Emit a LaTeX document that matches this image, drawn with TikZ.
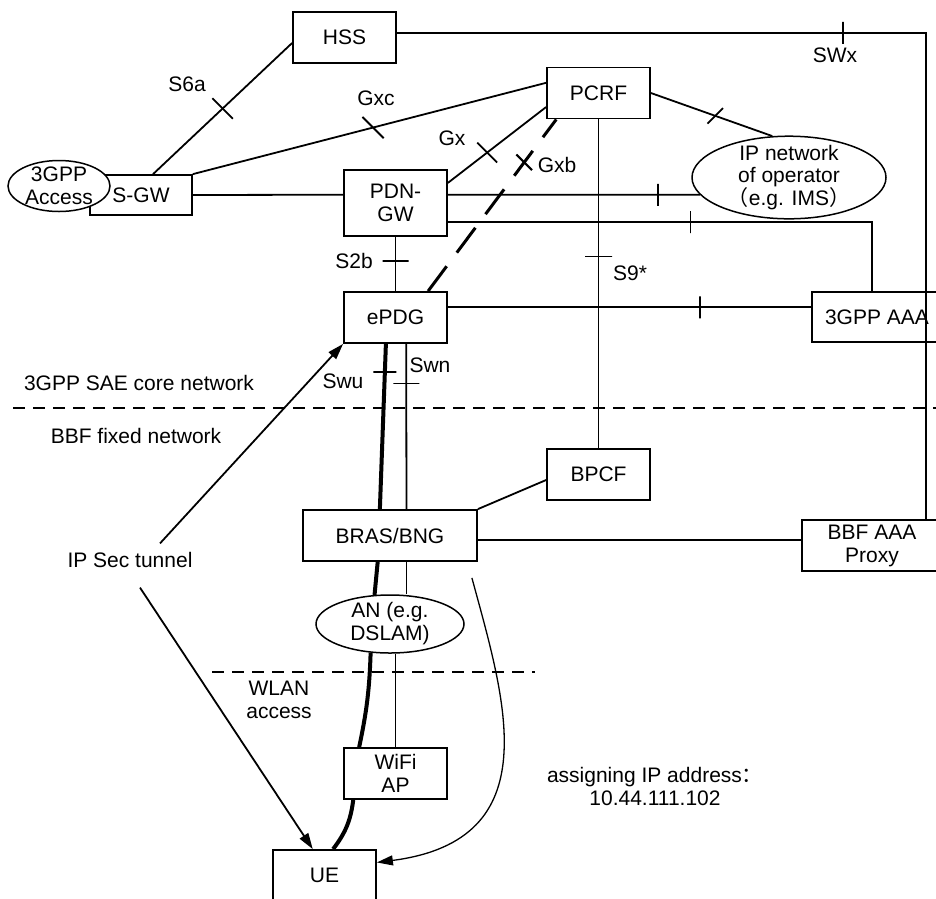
\documentclass[tikz,border=0pt]{standalone}
\usepackage{fontspec}
\setmainfont{Liberation Sans}
\newfontfamily\cjk{Noto Sans CJK SC}
\usetikzlibrary{shapes.geometric,arrows.meta}

\begin{document}
\begin{tikzpicture}[x=1pt,y=-1pt,line width=1.8pt,
      font=\fontsize{21}{23}\selectfont,
      box/.style={draw,fill=white,minimum width=103pt,minimum height=51pt,inner sep=1pt,align=center},
      cloud/.style={draw,ellipse,fill=white,inner sep=-3pt,align=center,line width=1.5pt},
      tick/.style={draw,solid,minimum width=0pt,minimum height=22pt,inner sep=0pt,line width=1.8pt},
      lbl/.style={inner sep=1pt,align=center},
      tip/.style={-{Triangle[length=16pt,width=10pt]}},
      border/.style={dash pattern=on 12pt off 8pt}]
   \useasboundingbox (0,0) rectangle (936,898);
   \clip (0,0) rectangle (936,898);

   \node[box] (hss) at (344.5,37.5) {HSS};
   \node[box] (pcrf) at (598.5,93) {PCRF};
   \node[box,minimum width=102pt,minimum height=40pt] (sgw) at (141,195) {S-GW};
   \node[cloud,minimum width=102pt,minimum height=51pt] (access) at (59,186) {3GPP\\Access};
   \node[box,minimum height=66pt] (pdngw) at (395.5,203) {PDN-\\GW};
   \node[cloud,minimum width=194pt,minimum height=80pt,font=\fontsize{21}{21.5}\selectfont] (ipnet) at (789,177.5)
      {IP network\\of operator\\{\cjk （}e.g. IMS{\cjk ）}};
   \node[box] (epdg) at (395.5,317.5) {ePDG};
   \node[box,minimum width=130pt,minimum height=50pt] (aaa) at (877,317) {3GPP AAA};
   \node[box] (bpcf) at (598.5,474.5) {BPCF};
   \node[box,minimum width=174pt] (bras) at (390,535.5) {BRAS/BNG};
   \node[box,minimum width=140pt] (bbf) at (872,545.5) {BBF AAA\\Proxy};
   \node[cloud,minimum width=148pt,minimum height=58pt] (an) at (390,624) {AN (e.g.\\DSLAM)};
   \node[box] (wifi) at (395.5,773.5) {WiFi\\AP};
   \node[box] (ue) at (324.5,875.5) {UE};

   % interface and area labels
   \node[lbl] (s6a) at (187,84) {S6a};
   \node[lbl] (gxc) at (376,98) {Gxc};
   \node[lbl] (gx) at (452,138) {Gx};
   \node[lbl] (gxb) at (557,165) {Gxb};
   \node[lbl] (swx) at (835,55) {SWx};
   \node[lbl] (s9) at (630,273) {S9*};
   \node[lbl] (s2b) at (354,261) {S2b};
   \node[lbl] (swu) at (343,381) {Swu};
   \node[lbl] (swn) at (430,365) {Swn};
   \node[lbl] (core) at (139,383) {3GPP SAE core network};
   \node[lbl] (fixed) at (136,436) {BBF fixed network};
   \node[lbl] (ipsec) at (130,560) {IP Sec tunnel};
   \node[lbl] (wlan) at (279,700) {WLAN\\access};
   \node[lbl] (addr) at (655,786) {assigning IP address{\cjk ：}\\10.44.111.102};

   \path
    (sgw.60)         edge node[tick,rotate=45,pos=0.5,minimum height=29pt] (t1) {} (hss.186)
    (sgw.north east) edge node[tick,rotate=45,pos=0.51,minimum height=30pt] (t2) {} (pcrf.169)
    (pdngw.21)       edge node[tick,rotate=45,pos=0.4,minimum height=28pt] (t3) {} (pcrf.195)
    (pcrf.east)      edge node[tick,rotate=-45,pos=0.53] (t4) {} (ipnet.112)
    (pcrf)           edge node[tick,rotate=90,pos=0.417,minimum height=27pt] (t5) {} (bpcf)
    (pdngw)          edge node[tick,rotate=90,pos=0.446,minimum height=26pt] (t6) {} (epdg)
    (sgw.east)       edge (pdngw.171)
    (pdngw.9)        edge node[tick,pos=0.835] (t7) {} (ipnet.191)
    (epdg.-68)       edge node[tick,rotate=90,pos=0.24,minimum height=26pt] (t8) {} (bras.58)
    (bras.north east) edge (bpcf.186);

   \draw (hss.5) -| node[tick,pos=0.422] (t9) {} (aaa.28);
   \draw (pdngw.-20) -| node[tick,pos=0.286] (t10) {} (aaa.101);
   \draw (epdg.11) -- node[tick,pos=0.693] (t11) {} (aaa.west |- epdg.11);
   \draw (aaa.28) -- (bbf.north -| aaa.28);
   \draw (bras.-3) -- (bras.-3 -| bbf.west);
   \draw (bras.-58) -- (an.north -| bras.-58);
   \draw (an.south -| wifi.north) -- (wifi.north);

   % Gxb is dashed and thick
   \draw[line width=3pt,dash pattern=on 31pt off 17pt] (epdg.39) -- node[tick,rotate=45,pos=0.75,line width=2.2pt] (t12) {} (pcrf.212);

   % the Swu path down to the UE
   \draw[line width=4pt] (epdg.-110) -- node[tick,rotate=90,pos=0.17,minimum height=23pt] (t13) {} (bras.111);
   \draw[line width=4pt] (bras.-115) -- (an.118);
   \draw[line width=4pt] (an.-124) to[bend left=5] (wifi.144);
   \draw[line width=4pt] (wifi.-148) to[bend left=15] (ue.72);

   \draw[tip] ([xshift=30pt,yshift=7pt]ipsec.north) -- (epdg.south west);
   \draw[tip] ([xshift=10pt,yshift=-18pt]ipsec.south) -- (ue.114);
   \draw[tip,line width=1.3pt] ([shift={(-6pt,-16pt)}]bras.south east) .. controls (505,700) and (550,840) .. (ue.14);

   \draw[border] (13,408) -- (936,408);
   \draw[border] (212,672) -- (535,672);
\end{tikzpicture}
\end{document}
